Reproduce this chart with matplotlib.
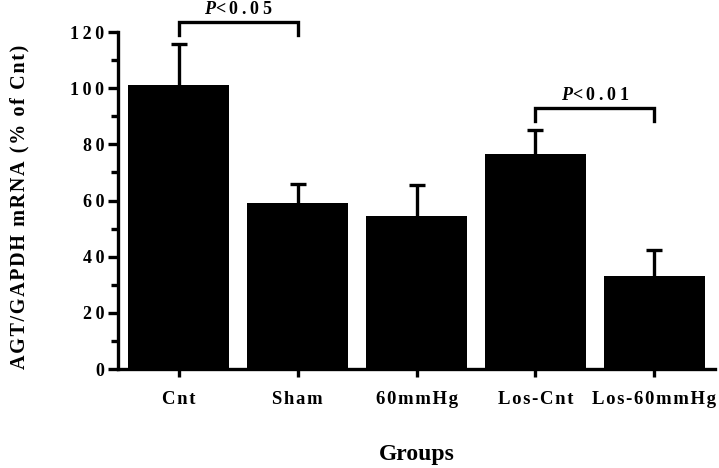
import matplotlib
matplotlib.use('Agg')
import matplotlib.pyplot as plt

plt.rcParams['font.family'] = ['Liberation Serif', 'DejaVu Serif']
plt.rcParams['font.weight'] = 'bold'
plt.rcParams['axes.labelweight'] = 'bold'
plt.rcParams['mathtext.fontset'] = 'custom'
plt.rcParams['mathtext.it'] = 'Liberation Serif:italic:bold'
plt.rcParams['mathtext.rm'] = 'Liberation Serif:bold'

groups = ['Cnt', 'Sham', '60mmHg', 'Los-Cnt', 'Los-60mmHg']
means = [101, 59, 54.6, 76.5, 33.2]
errs = [14.7, 7, 10.8, 8.5, 9.3]
yticks = [0, 20, 40, 60, 80, 100, 120]
# significance brackets: (left bar, right bar, bracket height, label)
sig = [(0, 1, 123.6, '<0.05'), (3, 4, 93, '<0.01')]


def spaced(s, sep='\u200a'):
    return sep.join(s)


fig = plt.figure(figsize=(7.19, 4.68), dpi=100)
ax = fig.add_axes([0.164, 0.2115, 0.8306, 0.7201])

x = list(range(len(groups)))
tops = [m + e for m, e in zip(means, errs)]
ax.bar(x, means, width=0.85, color='black', zorder=2)
# upper error bars only
ax.vlines(x, means, tops, color='black', lw=2.4, zorder=1)
ax.plot(x, tops, ls='none', marker='_', ms=12, mew=2.4, color='black')

ax.set_xlim(-0.51, 4.51)
ax.set_ylim(0, 120)
ax.set_yticks(yticks)
ax.set_yticklabels([spaced(str(t), '\u2009') for t in yticks], fontsize=13)
ax.set_yticks(range(10, 120, 20), minor=True)
ax.set_xticks(x)
ax.set_xticklabels([spaced(g) for g in groups], fontsize=13.5)

for s in ['top', 'right']:
    ax.spines[s].set_visible(False)
for s in ['left', 'bottom']:
    ax.spines[s].set_linewidth(2.4)
ax.tick_params(axis='y', which='major', length=7, width=2.4, pad=3)
ax.tick_params(axis='y', which='minor', length=5, width=2.4)
ax.tick_params(axis='x', length=6, width=2.4, pad=10)

ax.set_ylabel(spaced('AGT/GAPDH mRNA (% of Cnt)'), fontsize=14.5)
ax.yaxis.set_label_coords(-0.148, 0.48)
ax.set_xlabel('Groups', fontsize=17, labelpad=26)

for a, b, h, lab in sig:
    ax.plot([a, a, b, b], [h - 4.6, h, h, h - 4.6], color='black', lw=2.4,
            clip_on=False, solid_joinstyle='miter')
    ax.text((a + b) / 2, h + 1.5, r'$\mathit{P}$' + spaced(lab, '\u2009'),
            ha='center', va='bottom', fontsize=13)

fig.savefig('out.png', dpi=100)
